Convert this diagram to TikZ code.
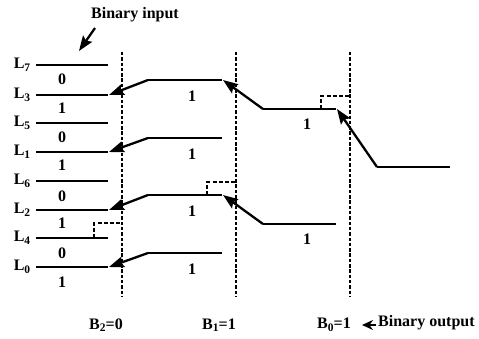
\documentclass[tikz,border=0pt]{standalone}
\usepackage{fontspec}
\setmainfont{Liberation Serif}
\usetikzlibrary{arrows.meta}
\newcommand{\lsub}[1]{\raisebox{-2.5pt}{\fontsize{11.5}{11.5}\selectfont #1}}
\begin{document}
\begin{tikzpicture}[x=1pt,y=-1pt,
  wire/.style={line width=2.3pt},
  sel/.style={line width=2.3pt,-{Stealth[length=15pt,width=11pt,inset=2.5pt]}},
  guide/.style={line width=2.2pt,dash pattern=on 3.5pt off 1.8pt},
  elbow/.style={line width=1.8pt,dash pattern=on 4pt off 2.2pt},
  txt/.style={font=\fontsize{16}{18}\selectfont\bfseries,inner sep=0pt},
  bit/.style={font=\fontsize{16}{18}\selectfont\bfseries,inner sep=0pt}]
\useasboundingbox (0,0) rectangle (479,339);
% input lines
\foreach \n/\y in {7/65,3/95,5/123,1/152,6/181,2/210,4/238,0/267}{
  \coordinate (in\n a) at (36,\y);
  \coordinate (in\n b) at (108,\y);
  \draw[wire] (in\n a) -- (in\n b);
  \node[txt] (lab\n) at (22,\y) {L\lsub{\n}};
}
% input bits
\foreach \i/\v/\y in {1/0/79,2/1/108,3/0/137,4/1/165,5/0/196,6/1/223,7/0/253,8/1/282}{
  \node[bit] (ib\i) at (62,\y) {\v};
}
% dashed guides
\foreach \k/\x in {a/122,b/236,c/350}{
  \coordinate (g\k t) at (\x,52);
  \coordinate (g\k b) at (\x,297);
  \draw[guide] (g\k t) -- (g\k b);
}
% stage 1
\foreach \i/\y in {1/80,2/138,3/195,4/253}{
  \coordinate (s1\i a) at (148,\y);
  \coordinate (s1\i b) at (222,\y);
  \draw[wire] (s1\i a) -- (s1\i b);
  \node[bit] (s1\i l) at (192,\y+16) {1};
}
\draw[sel] (s11a) -- ([xshift=1pt]in3b);
\draw[sel] (s12a) -- ([xshift=1pt]in1b);
\draw[sel] (s13a) -- ([xshift=1pt]in2b);
\draw[sel] (s14a) -- ([xshift=1pt]in0b);
% stage 2
\foreach \i/\y in {1/109,2/224}{
  \coordinate (s2\i a) at (263,\y);
  \coordinate (s2\i b) at (336,\y);
  \draw[wire] (s2\i a) -- (s2\i b);
  \node[bit] (s2\i l) at (307,\y+15) {1};
}
\draw[sel] (s21a) -- ([xshift=1pt]s11b);
\draw[sel] (s22a) -- ([xshift=1pt]s13b);
% stage 3
\coordinate (outa) at (377,167);
\coordinate (outb) at (450,167);
\draw[wire] (outa) -- (outb);
\draw[sel] (outa) -- ([xshift=1pt]s21b);
% dashed elbows
\coordinate (e1) at (94,238);
\draw[elbow] (e1) -- (94,223) -- (122,223);
\coordinate (e2) at (207,195);
\draw[elbow] (e2) -- (207,182) -- (236,182);
\coordinate (e3) at (321,109);
\draw[elbow] (e3) -- (321,96) -- (350,96);
% binary input
\node[txt] (bin) at (135,15) {Binary input};
\coordinate (bint) at (95,28);
\coordinate (binp) at (79,51);
\draw[sel] (bint) -- (binp);
% bottom labels
\node[txt] (b2) at (106,325) {B\lsub{2}=0};
\node[txt] (b1) at (219,325) {B\lsub{1}=1};
\node[txt] (b0) at (334,325) {B\lsub{0}=1};
\node[txt,anchor=west] (bout) at (378,323) {Binary output};
\coordinate (bo1) at (376,325);
\coordinate (bo2) at (362,325);
\draw[line width=1.8pt,-{Stealth[length=11pt,width=10pt]}] (bo1) -- (bo2);
\end{tikzpicture}
\end{document}
